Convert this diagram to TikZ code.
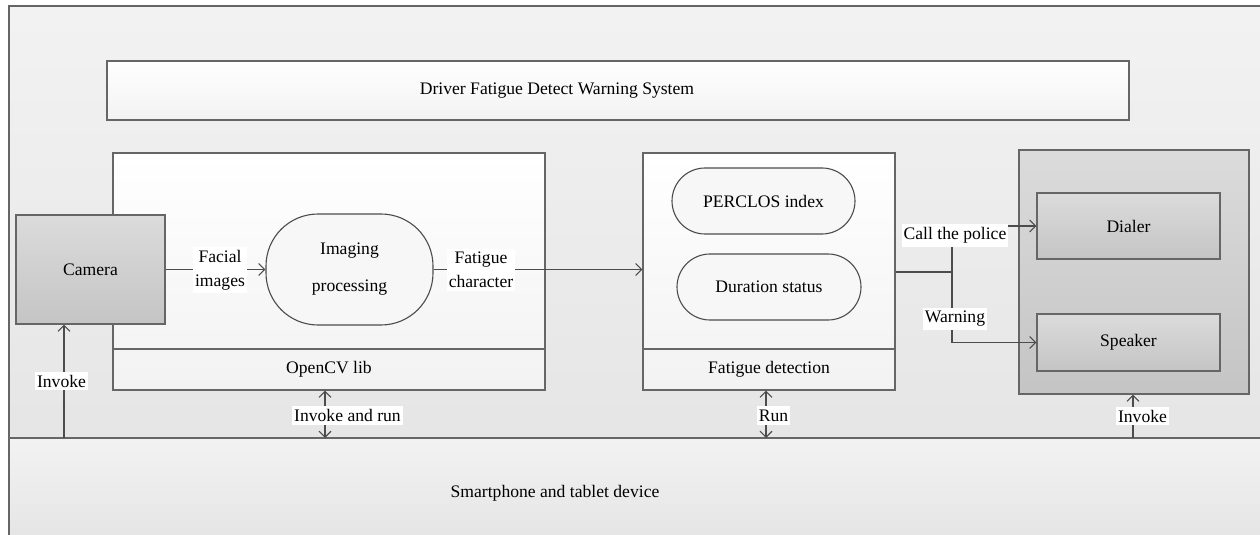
\documentclass[tikz,border=0pt]{standalone}
\usepackage{fontspec}
\setmainfont{Liberation Serif}
\usetikzlibrary{arrows.meta}
\begin{document}
\begin{tikzpicture}[x=0.5pt,y=-0.5pt,
 line width=0.55pt,
 font=\fontsize{8.8}{12}\selectfont,
 bd/.style={draw=black!60},
 wbox/.style={bd, top color=white, bottom color=black!5, inner sep=0pt},
 gbox/.style={bd, top color=black!14, bottom color=black!23, inner sep=0pt},
 pill/.style={draw=black!70, fill=white!97!black, inner sep=0pt, align=center},
 lab/.style={fill=white, inner xsep=1pt, inner ysep=1.6pt, align=center},
 tip/.tip={Straight Barb[length=3pt,width=6pt]},
 arr/.style={draw=black!70, -tip},
 darr/.style={draw=black!70, tip-tip},
 ln/.style={draw=black!70},
]
\useasboundingbox (0,0) rectangle (1260,535);
% background regions
\shade[top color=black!5, bottom color=black!10] (9,6) rectangle (1260,438);
\shade[top color=black!5, bottom color=black!10] (9,438) rectangle (1260,535);
\draw[bd] (9,535) -- (9,6) -- (1260,6);
\draw[bd] (9,438) -- (1260,438);

% title
\node[wbox, minimum width=511pt, minimum height=29.5pt] (title) at (618,90.5) {};
\node (titlet) at (557,91) {Driver Fatigue Detect Warning System};

% OpenCV block
\node[wbox, minimum width=216pt, minimum height=118.5pt] (opencv) at (329,271.5) {};
\draw[bd] (113,349) -- (545,349);
\node (ocl) at (329,369.5) {OpenCV lib};

% camera
\node[gbox, minimum width=74.5pt, minimum height=54.5pt] (camera) at (90.5,269.5) {Camera};

% imaging processing
\node[pill, rounded corners=26pt, minimum width=83.5pt, minimum height=55.5pt,
      font=\fontsize{8.8}{18.5}\selectfont] (imaging) at (349.5,269.5) {Imaging\\processing};

% fatigue detection block
\node[wbox, minimum width=126pt, minimum height=118.5pt] (fd) at (769,271.5) {};
\draw[bd] (643,349) -- (895,349);
\node (fdl) at (769,369) {Fatigue detection};
\node[pill, rounded corners=16.5pt, minimum width=91.5pt, minimum height=33pt] (perclos) at (763.5,201) {PERCLOS index};
\node[pill, rounded corners=16.5pt, minimum width=92pt, minimum height=33pt] (duration) at (769,287) {Duration status};

% device block
\node[gbox, minimum width=115pt, minimum height=122pt] (device) at (1134,272) {};
\node[gbox, minimum width=91.5pt, minimum height=33pt] (dialer) at (1128.5,226) {Dialer};
\node[gbox, minimum width=91.5pt, minimum height=28.5pt] (speaker) at (1128.5,342.5) {Speaker};

% bottom label
\node (phone) at (555,493) {Smartphone and tablet device};

% connectors
\draw[arr] (camera.east) -- (imaging.west);
\draw[arr] (imaging.east) -- (fd.west |- imaging.east);
\node[lab] (facl) at (220,270) {Facial\\images};
\node[lab] (fcl) at (481,270) {Fatigue\\character};

\coordinate (j) at (952,272);
\draw[ln] (fd.east |- j) -- (j);
\draw[arr] (j) |- (dialer.west);
\draw[arr] (j) |- (speaker.west);
\node[lab] (callp) at (955,235.5) {Call the police};
\node[lab] (warn) at (955,319) {Warning};

\coordinate (b1) at (64,438);
\coordinate (b2) at (325,438);
\coordinate (b3) at (766,438);
\coordinate (b4) at (1133,438);
\draw[arr] (b1) -- (b1 |- camera.south);
\draw[darr] (b2) -- (b2 |- opencv.south);
\draw[darr] (b3) -- (b3 |- fd.south);
\draw[arr] (b4) -- (b4 |- device.south);
\node[lab] (inv1) at (61.5,381) {Invoke};
\node[lab] (invr) at (347.5,415.5) {Invoke and run};
\node[lab] (run) at (773.5,415.5) {Run};
\node[lab] (inv2) at (1142.5,416) {Invoke};
\end{tikzpicture}
\end{document}
